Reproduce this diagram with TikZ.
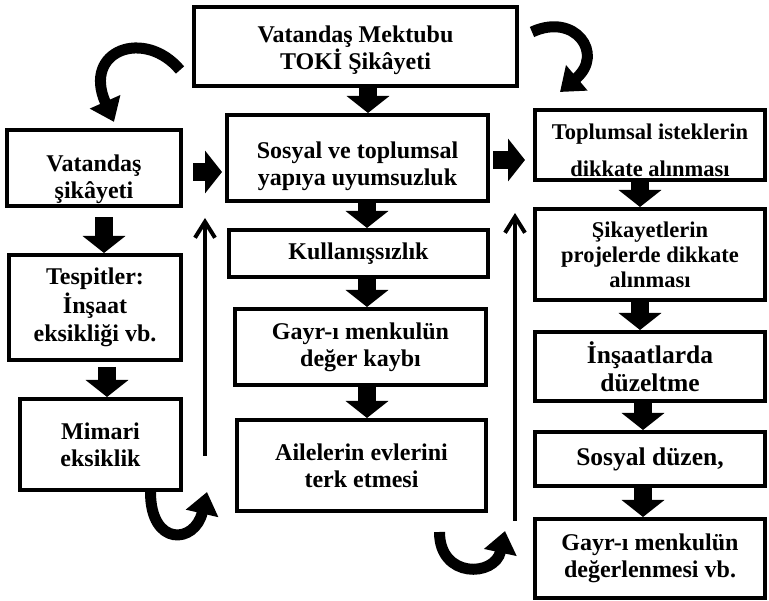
\documentclass[tikz,border=0pt]{standalone}
\usepackage{fontspec}
\setmainfont{Liberation Serif}
\usetikzlibrary{arrows.meta}

\begin{document}
\begin{tikzpicture} [
    x=1pt, y=-1pt,
    box/.style      = { rectangle, draw=black, line width=4pt, fill=white,
                        align=center, inner sep=2pt,
                        font=\fontsize{24}{27}\selectfont\bfseries },
    rtext/.style    = { font=\fontsize{22.5}{25}\selectfont\bfseries },
    btext/.style    = { font=\fontsize{25.5}{28}\selectfont\bfseries },
    push/.style     = { draw, line width=18pt, -{Triangle[width=42pt, length=17pt]} },
    loopback/.style = { draw, line width=4pt, -{Straight Barb[length=16pt, width=20pt]} },
    swing/.style    = { draw, line width=11pt, -{Triangle[width=32pt, length=22pt]} },
  ]

\useasboundingbox (0,0) rectangle (769,601);

% centre column
\node [box, minimum width=323pt, minimum height=79pt, text height=51.5pt] (letter) at (355.5,46.5) {Vatandaş Mektubu \\ TOKİ Şikâyeti};
\node [box, minimum width=261pt, minimum height=86pt, text height=59.5pt] (misfit) at (357.5,158) {Sosyal ve toplumsal \\ yapıya uyumsuzluk};
\node [box, minimum width=259pt, minimum height=47pt] (useless)   at (358.5,253.5) {Kullanışsızlık};
\node [box, minimum width=251pt, minimum height=76pt] (valueloss) at (360.5,347)  {Gayr-ı menkulün \\ değer kaybı};
\node [box, minimum width=249pt, minimum height=91pt] (leaving)   at (361.5,465.5) {Ailelerin evlerini \\ terk etmesi};

% left column
\node [box, minimum width=174pt, minimum height=76pt, text height=67pt] (complaint) at (94,168) {Vatandaş \\ şikâyeti};
\node [box, minimum width=172pt, minimum height=105pt] (findings)  at (95,307.5)  {Tespitler: \\[1.5pt] İnşaat \\[1.5pt] eksikliği vb.};
\node [box, minimum width=161pt, minimum height=91pt]  (archgap)   at (100.5,444.5) {Mimari \\ eksiklik};

% right column
\node [box, rtext, minimum width=230pt, minimum height=70pt, text height=64pt] (demands) at (650,145) {Toplumsal isteklerin \\[12pt] dikkate alınması};
\node [box, rtext, minimum width=230pt, minimum height=91pt] (projects)  at (650,254.5) {Şikayetlerin \\ projelerde dikkate \\ alınması};
\node [box, btext, minimum width=230pt, minimum height=69pt] (repair)    at (650,366.5) {İnşaatlarda \\ düzeltme};
\node [box, btext, minimum width=230pt, minimum height=54pt] (order)     at (650,459)   {Sosyal düzen,};
\node [box, minimum width=230pt, minimum height=79pt]        (valuegain) at (650,558.5) {Gayr-ı menkulün \\ değerlenmesi vb.};

% loose ends of the return lines
\coordinate (upL)   at (205,218);
\coordinate (lowL)  at (205,456);
\coordinate (turnL) at (207,492);
\coordinate (upR)   at (515,213);
\coordinate (lowR)  at (515,521);
\coordinate (turnR) at (505,531);

\begin{scope} [every path/.style=push]
    \path ([xshift=12.5pt]letter.south)   -- ([xshift=12.5pt]letter.south |- misfit.north);
    \path ([xshift=9.5pt]misfit.south)    -- ([xshift=9.5pt]misfit.south |- useless.north);
    \path ([xshift=8.5pt]useless.south)   -- ([xshift=8.5pt]useless.south |- valueloss.north);
    \path ([xshift=6.5pt]valueloss.south) -- ([xshift=6.5pt]valueloss.south |- leaving.north);
    \path [shorten <=9pt] ([xshift=10pt]complaint.south) -- ([xshift=10pt]complaint.south |- findings.north);
    \path [shorten <=5pt] ([xshift=12pt]findings.south)  -- ([xshift=12pt]findings.south |- archgap.north);
    \path ([xshift=-10pt]demands.south)   -- ([xshift=-10pt]demands.south |- projects.north);
    \path ([xshift=-10pt]projects.south)  -- ([xshift=-10pt]projects.south |- repair.north);
    \path ([xshift=-7pt]repair.south)     -- ([xshift=-7pt]repair.south |- order.north);
    \path ([xshift=-7pt]order.south)      -- ([xshift=-7pt]order.south |- valuegain.north);
    \path [shorten <=10pt, shorten >=3pt] ([yshift=-4pt]complaint.east) -- ([yshift=-4pt]complaint.east -| misfit.west);
    \path [shorten <=3pt, shorten >=8pt]  ([yshift=-2pt]misfit.east)    -- ([yshift=-2pt]misfit.east -| demands.west);
\end{scope}

\path [loopback] (lowL) -- (upL);
\path [loopback] (lowR) -- (upR);

\begin{scope} [every path/.style=swing]
    \path ([xshift=-12pt, yshift=-23.5pt]letter.west) .. controls +(-35,-42) and +(-32,-72) .. ([xshift=20pt, yshift=6pt]complaint.north);
    \path ([xshift=13pt, yshift=14.5pt]letter.east)   .. controls +(43,-20) and +(45,-38)   .. ([xshift=-90pt, yshift=16pt]demands.north);
    \path ([xshift=50pt]archgap.south)                .. controls +(0,55) and +(-12,52)     .. (turnL);
    \path ([xshift=78pt, yshift=-19pt]leaving.south)  .. controls +(0,47) and +(-10,46)     .. (turnR);
\end{scope}

\end{tikzpicture}
\end{document}
